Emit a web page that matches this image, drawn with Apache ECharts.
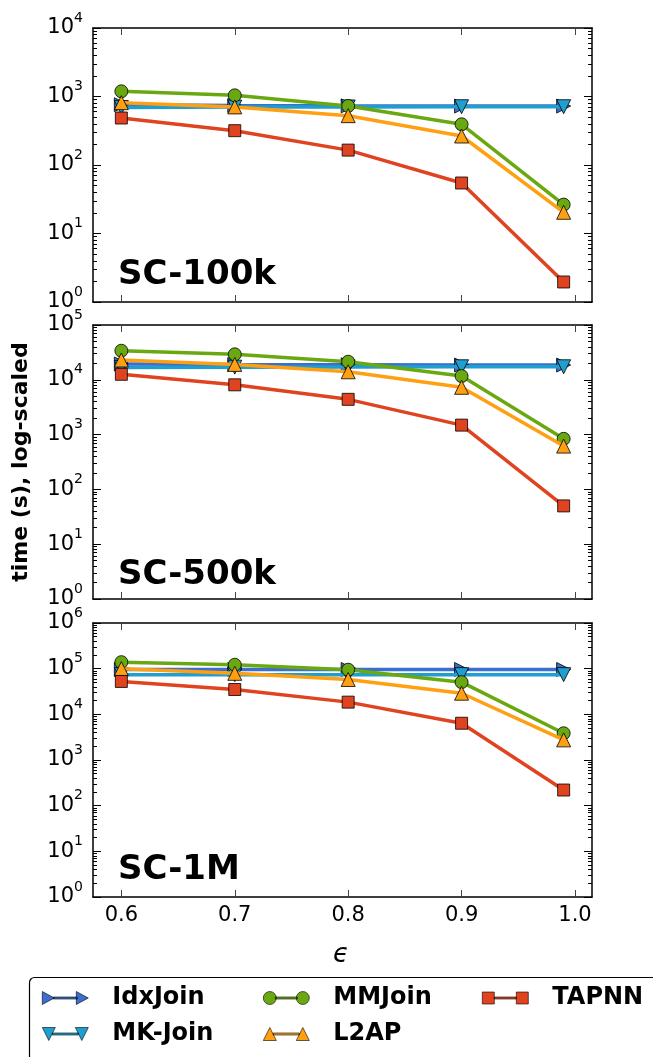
<!DOCTYPE html>
<html>
<head>
<meta charset="utf-8">
<script src="https://cdn.jsdelivr.net/npm/echarts@6/dist/echarts.min.js"></script>
<style>html,body{margin:0;padding:0;background:#fff;}#c{width:653px;height:1057px;}</style>
</head>
<body>
<div id="c"></div>
<script>
// ---- data ----
const seriesNames = ['IdxJoin', 'MK-Join', 'MMJoin', 'L2AP', 'TAPNN'];
const epsValues = [0.6, 0.7, 0.8, 0.9, 0.99];
const xTickValues = [0.6, 0.7, 0.8, 0.9, 1.0];
const panelLabels = ['SC-100k', 'SC-500k', 'SC-1M'];
const panelMaxExp = [4, 5, 6];

// SC-100k
const idx100k   = [760, 740, 730, 725, 725];
const mk100k    = [690, 700, 705, 710, 710];
const mm100k    = [1190, 1040, 727, 393, 26.4];
const l2ap100k  = [813, 705, 525, 265, 20.4];
const tapnn100k = [485, 317, 165, 54.6, 1.96];
// SC-500k
const idx500k   = [19400, 19000, 18800, 18600, 18600];
const mk500k    = [16800, 17000, 17200, 17300, 17300];
const mm500k    = [33900, 29200, 21400, 11700, 837];
const l2ap500k  = [23000, 19100, 14000, 7300, 617];
const tapnn500k = [12600, 8100, 4400, 1490, 50];
// SC-1M
const idx1M   = [96000, 96000, 96000, 96000, 96000];
const mk1M    = [74000, 74000, 74000, 74000, 74000];
const mm1M    = [139000, 122000, 94900, 50700, 3850];
const l2ap1M  = [100000, 79000, 58000, 29000, 2760];
const tapnn1M = [52500, 35000, 18500, 6380, 220];

const panelData = [
  [idx100k, mk100k, mm100k, l2ap100k, tapnn100k],
  [idx500k, mk500k, mm500k, l2ap500k, tapnn500k],
  [idx1M, mk1M, mm1M, l2ap1M, tapnn1M]
];

// ---- styles ----
const colors = ['#3b6ecf', '#1e9fd0', '#6aa812', '#ffa012', '#e0431f'];
const symbols = ['triangle', 'triangle', 'circle', 'triangle', 'rect'];
const symbolRot = [-90, 180, 0, 0, 0];
const symbolSizes = [14, 14, 13, 14, 12];
const legendIcons = [
  'path://M0,0L12,6.5L0,13ZM11,5.5L35,5.5L35,7.5L11,7.5ZM34,0L46,6.5L34,13Z',
  'path://M0,0L13,0L6.5,13ZM10,5.5L36,5.5L36,7.5L10,7.5ZM33,0L46,0L39.5,13Z',
  'path://M0,6.5A6.5,6.5 0 1 1 13,6.5A6.5,6.5 0 1 1 0,6.5ZM12,5.5L34,5.5L34,7.5L12,7.5ZM33,6.5A6.5,6.5 0 1 1 46,6.5A6.5,6.5 0 1 1 33,6.5Z',
  'path://M0,13L6.5,0L13,13ZM10,5.5L36,5.5L36,7.5L10,7.5ZM33,13L39.5,0L46,13Z',
  'path://M0,0.5L12,0.5L12,12.5L0,12.5ZM12,5.5L34,5.5L34,7.5L12,7.5ZM34,0.5L46,0.5L46,12.5L34,12.5Z'
];

const FONT = 'DejaVu Sans';
const gridTops = [28, 325, 623];
const GRID_LEFT = 93, GRID_W = 499, GRID_H = 274;

function majorVals(maxE) { const a = []; for (let e = 0; e <= maxE; e++) a.push(Math.pow(10, e)); return a; }
function minorVals(maxE) { const a = []; for (let e = 0; e < maxE; e++) for (let m = 2; m <= 9; m++) a.push(m * Math.pow(10, e)); return a; }

const grids = [], xAxes = [], yAxes = [], series = [];
for (let p = 0; p < 3; p++) {
  grids.push({left: GRID_LEFT, top: gridTops[p], width: GRID_W, height: GRID_H});
  const xBase = {
    type: 'value', gridIndex: p, min: 0.575, max: 1.015,
    axisLine: {show: true, onZero: false, lineStyle: {color: '#000', width: 1.5}},
    axisTick: {show: true, inside: true, length: 7, customValues: xTickValues, lineStyle: {color: '#444', width: 1}},
    splitLine: {show: false}
  };
  xAxes.push(Object.assign({}, xBase, {
    position: 'bottom',
    axisLabel: {show: p === 2, customValues: xTickValues, formatter: v => v.toFixed(1), fontSize: 21, fontFamily: FONT, color: '#000', margin: 8}
  }));
  xAxes.push(Object.assign({}, xBase, {position: 'top', axisLabel: {show: false}}));

  const maxE = panelMaxExp[p];
  const yBase = {
    type: 'log', logBase: 10, gridIndex: p, min: 1, max: Math.pow(10, maxE),
    splitLine: {show: false}, minorTick: {show: false}, minorSplitLine: {show: false}
  };
  yAxes.push(Object.assign({}, yBase, {
    position: 'left',
    axisLine: {show: true, lineStyle: {color: '#000', width: 1.5}},
    axisTick: {show: true, inside: true, length: 8, customValues: majorVals(maxE), lineStyle: {color: '#000', width: 1}},
    axisLabel: {
      show: true, customValues: majorVals(maxE), margin: 10,
      formatter: v => '{b|10}{s|' + Math.round(Math.log10(v)) + '}',
      rich: {
        b: {fontSize: 21, fontFamily: FONT, color: '#000', lineHeight: 34},
        s: {fontSize: 14, fontFamily: FONT, color: '#000', lineHeight: 14, verticalAlign: 'top'}
      }
    }
  }));
  yAxes.push(Object.assign({}, yBase, {
    position: 'left', axisLine: {show: false}, axisLabel: {show: false},
    axisTick: {show: true, inside: true, length: 4, customValues: minorVals(maxE), lineStyle: {color: '#000', width: 1}}
  }));
  yAxes.push(Object.assign({}, yBase, {
    position: 'right',
    axisLine: {show: true, lineStyle: {color: '#000', width: 1.5}},
    axisTick: {show: true, inside: true, length: 8, customValues: majorVals(maxE), lineStyle: {color: '#000', width: 1}},
    axisLabel: {show: false}
  }));
  yAxes.push(Object.assign({}, yBase, {
    position: 'right', axisLine: {show: false}, axisLabel: {show: false},
    axisTick: {show: true, inside: true, length: 4, customValues: minorVals(maxE), lineStyle: {color: '#000', width: 1}}
  }));

  for (let s = 0; s < 5; s++) {
    const vals = panelData[p][s];
    series.push({
      type: 'line', name: seriesNames[s],
      xAxisIndex: p * 2, yAxisIndex: p * 4,
      data: epsValues.map((x, j) => [x, vals[j]]),
      symbol: symbols[s], symbolSize: symbolSizes[s], symbolRotate: symbolRot[s],
      showAllSymbol: true,
      lineStyle: {color: colors[s], width: 3.5},
      itemStyle: {color: colors[s], borderColor: '#000', borderWidth: 0.8},
      emphasis: {disabled: true},
      z: 2 + s
    });
  }
}

const legendText = {fontSize: 24, fontWeight: 'bold', fontFamily: FONT, color: '#000', padding: [0, 0, 0, 19], lineHeight: 26};
function mkLegend(ids, left) {
  return {
    data: ids.map(i => ({name: seriesNames[i], icon: legendIcons[i]})),
    orient: 'vertical', left: left, top: 985, itemWidth: 46, itemHeight: 14, itemGap: 10,
    padding: 0, selectedMode: false, textStyle: legendText,
    itemStyle: {borderColor: '#000', borderWidth: 0.6}
  };
}

const graphics = [
  {type: 'rect', shape: {x: 29.5, y: 977.5, width: 640, height: 120, r: 5}, style: {fill: '#fff', stroke: '#000', lineWidth: 1.2}, z: 0},
  {type: 'text', x: 21, y: 462, rotation: Math.PI / 2,
   style: {text: 'time (s), log-scaled', font: 'bold 22px "DejaVu Sans"', fill: '#000', align: 'center', verticalAlign: 'middle'}},
  {type: 'text', x: 341, y: 955,
   style: {text: 'ϵ', font: 'oblique 26px "DejaVu Sans"', fill: '#000', align: 'center', verticalAlign: 'middle'}}
];
const labelY = [275.5, 575, 870.5];
for (let p = 0; p < 3; p++) {
  graphics.push({type: 'text', x: 118, y: labelY[p],
    style: {text: panelLabels[p], font: 'bold 34px "DejaVu Sans"', fill: '#000', align: 'left', verticalAlign: 'middle'}, z: 10});
}

const chart = echarts.init(document.getElementById('c'), null, {renderer: 'canvas'});
chart.setOption({
  animation: false,
  backgroundColor: '#fff',
  grid: grids,
  xAxis: xAxes,
  yAxis: yAxes,
  series: series,
  legend: [mkLegend([0, 1], 42), mkLegend([2, 3], 263), mkLegend([4], 482)],
  graphic: graphics
});
</script>
</body>
</html>
